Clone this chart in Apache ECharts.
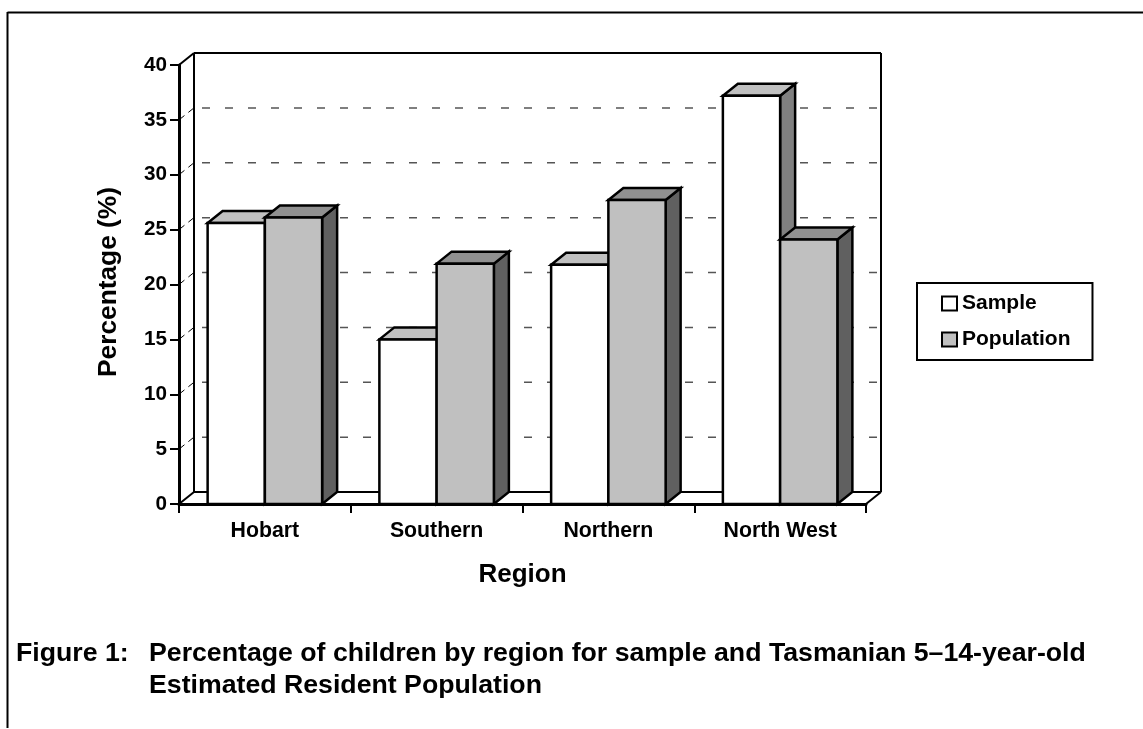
<!DOCTYPE html>
<html><head><meta charset="utf-8">
<style>html,body{margin:0;padding:0;background:#fff}#c{width:1143px;height:729px}</style>
<script src="https://cdn.jsdelivr.net/npm/echarts@6/dist/echarts.min.js"></script>
</head><body><div id="c"></div>
<script>
var categories = ['Hobart','Southern','Northern','North West'];
var sample = [25.6, 15.0, 21.8, 37.2];
var population = [26.1, 21.9, 27.7, 24.1];
var yTicks = [0,5,10,15,20,25,30,35,40];
var FONT = '"Liberation Sans", Arial, sans-serif';
var DX = 15, DY = -12;
var BW = 57.25;

function poly(pts, fill, lw){
  return {type:'polygon', shape:{points:pts}, style:{fill:fill, stroke:'#000', lineWidth:lw||2.5, lineJoin:'miter'}};
}
function barItem(offset, front, top, side){
  return function(params, api){
    var c = api.coord([api.value(0), api.value(1)]);
    var b = api.coord([api.value(0), 0]);
    var xl = c[0] + offset*BW, xr = xl + BW, yt = c[1], yb = b[1];
    return {type:'group', children:[
      poly([[xr,yb],[xr+DX,yb+DY],[xr+DX,yt+DY],[xr,yt]], side),
      poly([[xl,yt],[xl+DX,yt+DY],[xr+DX,yt+DY],[xr,yt]], top),
      poly([[xl,yt],[xr,yt],[xr,yb],[xl,yb]], front)
    ]};
  };
}
function wallsItem(params, api){
  var o = api.coord([0,0]), t = api.coord([0,40]);
  var band = api.size([1,0])[0];
  var x0 = o[0]-band/2, x1 = x0+4*band, yb = o[1], yt = t[1];
  function ln(a,b,c,d,w,col,dash,off){return {type:'line',shape:{x1:a,y1:b,x2:c,y2:d},style:{stroke:col||'#000',lineWidth:w||2,lineDash:dash,lineDashOffset:off||0}};}
  var ch = [
    ln(x0+DX,yb+DY,x0+DX,yt+DY), ln(x0+DX,yt+DY,x1+DX,yt+DY),
    ln(x1+DX,yt+DY,x1+DX,yb+DY), ln(x0+DX,yb+DY,x1+DX,yb+DY),
    ln(x0,yb,x0+DX,yb+DY), ln(x1,yb,x1+DX,yb+DY), ln(x0,yt,x0+DX,yt+DY)
  ];
  yTicks.forEach(function(v){
    if(v===0||v===40) return;
    var y = api.coord([0,v])[1];
    ch.push(ln(x0,y,x0+DX,y+DY,1,'#000',[7,5]));
    ch.push(ln(x0+DX,y+DY,x1+DX,y+DY,1.5,'#555',[8,15],15));
  });
  return {type:'group',children:ch};
}
var CAP = {fontFamily:FONT,fontSize:26.7,fontWeight:'bold',color:'#000'};
var option = {
  animation:false,
  backgroundColor:'#fff',
  textStyle:{fontFamily:FONT,color:'#000'},
  title:[
    {text:'Figure 1:',left:16,top:640,padding:0,textStyle:CAP},
    {text:'Percentage of children by region for sample and Tasmanian 5–14-year-old',left:149,top:640,padding:0,textStyle:CAP},
    {text:'Estimated Resident Population',left:149,top:672,padding:0,textStyle:CAP}
  ],
  grid:{left:179,right:277,top:65,bottom:225,containLabel:false},
  xAxis:{type:'category',data:categories,
    name:'Region',nameLocation:'middle',nameGap:58,
    nameTextStyle:{fontFamily:FONT,fontSize:26,fontWeight:'bold',color:'#000'},
    axisLine:{show:true,lineStyle:{color:'#000',width:3}},
    axisTick:{show:true,length:9,alignWithLabel:false,lineStyle:{color:'#000',width:2}},
    axisLabel:{fontFamily:FONT,fontSize:21.3,fontWeight:'bold',color:'#000',margin:17}
  },
  yAxis:{type:'value',min:0,max:40,interval:5,
    name:'Percentage (%)',nameLocation:'middle',nameGap:57,nameRotate:90,
    nameTextStyle:{fontFamily:FONT,fontSize:26.3,fontWeight:'bold',color:'#000',padding:[0,0,0,5]},
    splitLine:{show:false},
    axisLine:{show:true,lineStyle:{color:'#000',width:3}},
    axisTick:{show:true,length:9,lineStyle:{color:'#000',width:2}},
    axisLabel:{fontFamily:FONT,fontSize:20.7,fontWeight:'bold',color:'#000',margin:12}
  },
  legend:{orient:'vertical',left:917,top:283,itemWidth:15,itemHeight:14,itemGap:15,
    padding:[10,22,10,24],borderColor:'#000',borderWidth:2,backgroundColor:'#fff',icon:'rect',
    textStyle:{fontFamily:FONT,fontSize:21,fontWeight:'bold',color:'#000'},
    data:[
      {name:'Sample',icon:'rect',itemStyle:{color:'#fff',borderColor:'#000',borderWidth:2}},
      {name:'Population',icon:'rect',itemStyle:{color:'#c0c0c0',borderColor:'#000',borderWidth:2}}
    ]},
  series:[
    {type:'custom',name:'walls',silent:true,z:1,clip:false,renderItem:wallsItem,data:[[0,0]],encode:{x:0,y:1}},
    {type:'custom',name:'Sample',z:2,clip:false,itemStyle:{color:'#fff'},
      renderItem:barItem(-1.0,'#ffffff','#c0c0c0','#808080'),
      data:sample.map(function(v,i){return [i,v];}),encode:{x:0,y:1}},
    {type:'custom',name:'Population',z:3,clip:false,itemStyle:{color:'#c0c0c0'},
      renderItem:barItem(0,'#c0c0c0','#909090','#606060'),
      data:population.map(function(v,i){return [i,v];}),encode:{x:0,y:1}}
  ],
  graphic:[
    {type:'line',z:100,shape:{x1:7.5,y1:12.5,x2:1143,y2:12.5},style:{stroke:'#000',lineWidth:2}},
    {type:'line',z:100,shape:{x1:7.5,y1:12,x2:7.5,y2:728},style:{stroke:'#000',lineWidth:2}}
  ]
};
var chart = echarts.init(document.getElementById('c'),null,{renderer:'canvas'});
chart.setOption(option);
</script></body></html>
